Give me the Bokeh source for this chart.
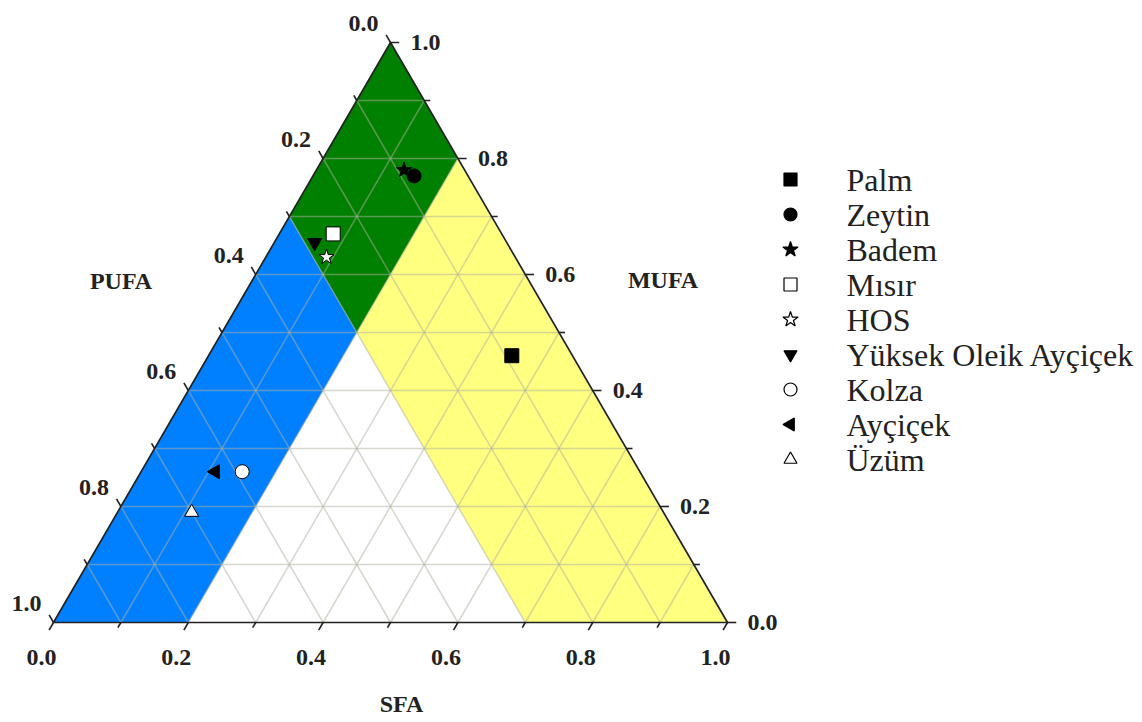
import numpy as np
from bokeh.plotting import figure
from bokeh.models import Range1d
from bokeh.core.properties import value
from bokeh.embed import file_html
from bokeh.resources import INLINE

# ---------------- data ----------------
oils = ["Palm", "Zeytin", "Badem", "Mısır", "HOS",
        "Yüksek Oleik Ayçiçek", "Kolza", "Ayçiçek", "Üzüm"]
sfa  = [0.45, 0.15, 0.13, 0.08, 0.09, 0.06, 0.15, 0.11, 0.11]
mufa = [0.46, 0.77, 0.78, 0.67, 0.63, 0.655, 0.26, 0.26, 0.19]
pufa = [0.09, 0.08, 0.09, 0.25, 0.28, 0.285, 0.59, 0.63, 0.70]
markers = ["square", "circle", "star", "square", "star",
           "inverted_triangle", "circle", "triangle", "triangle"]
angles  = [0, 0, 0, 0, 0, 0, 0, np.pi / 2, 0]
fills   = ["black", "black", "black", "white", "white",
           "black", "white", "black", "white"]

tick_values  = [round(0.1 * i, 1) for i in range(11)]
major_values = [0.0, 0.2, 0.4, 0.6, 0.8, 1.0]
tick_labels  = ["0.0", "0.2", "0.4", "0.6", "0.8", "1.0"]

sfa_cut, pufa_cut = 0.2, 0.3
axis_titles = ["SFA", "MUFA", "PUFA"]

# ---------------- helpers ----------------
H = np.sqrt(3) / 2


def tern(s, m, p):
    tot = s + m + p
    s, m = s / tot, m / tot
    return s + m / 2, m * H


# page geometry (pixels)
W, Hpx = 1142, 722
CX, CY = 53.0, 622.0          # bottom-left corner of triangle on page
SX, SY = 674.0, 580.0 / H     # pixels per data unit
x0 = -CX / SX
x1 = x0 + W / SX
y1 = CY / SY
y0 = -(Hpx - CY) / SY


def px2data(px, py):
    return (px - CX) / SX, (CY - py) / SY


p = figure(width=W, height=Hpx, x_range=Range1d(x0, x1), y_range=Range1d(y0, y1),
           output_backend="svg", toolbar_location=None, min_border=0,
           x_axis_type=None, y_axis_type=None)
p.outline_line_color = None
p.grid.visible = False
p.background_fill_color = "white"
p.border_fill_color = "white"


def poly(pts):
    xs, ys = zip(*[tern(*q) for q in pts])
    return list(xs), list(ys)


sc, pc = sfa_cut, pufa_cut
green = poly([(0, 1, 0), (0, 1 - pc, pc), (sc, 1 - sc - pc, pc), (sc, 1 - sc, 0)])
blue = poly([(0, 1 - pc, pc), (0, 0, 1), (sc, 0, 1 - sc), (sc, 1 - sc - pc, pc)])
yellow = poly([(sc, 1 - sc, 0), (sc, 1 - sc - pc, pc), (1 - pc, 0, pc), (1, 0, 0)])

p.patches([green[0], blue[0], yellow[0]], [green[1], blue[1], yellow[1]],
          fill_color=["#008000", "#0080FF", "#FFFF80"], line_color=None)

# grid lines
gx0, gy0, gx1, gy1 = [], [], [], []
for v in tick_values[1:-1]:
    for a, b in [((v, 0, 1 - v), (v, 1 - v, 0)),
                 ((0, v, 1 - v), (1 - v, v, 0)),
                 ((0, 1 - v, v), (1 - v, 0, v))]:
        xa, ya = tern(*a)
        xb, yb = tern(*b)
        gx0.append(xa); gy0.append(ya); gx1.append(xb); gy1.append(yb)
p.segment(gx0, gy0, gx1, gy1, line_color="#b0b0a0", line_alpha=0.5, line_width=1.5)

# triangle outline
ox, oy = poly([(0, 0, 1), (1, 0, 0), (0, 1, 0), (0, 0, 1)])
p.line(ox, oy, line_color="#222222", line_width=1.7)

# ticks
tx0, ty0, tx1, ty1 = [], [], [], []
for v in tick_values:
    L = 0.013 if round(v * 10) % 2 == 0 else 0.009
    x, y = tern(v, 0, 1 - v)          # SFA (bottom): down-left
    tx0.append(x); ty0.append(y); tx1.append(x - 0.5 * L); ty1.append(y - H * L)
    x, y = tern(1 - v, v, 0)          # MUFA (right): to the right
    tx0.append(x); ty0.append(y); tx1.append(x + L); ty1.append(y)
    x, y = tern(0, 1 - v, v)          # PUFA (left): up-left
    tx0.append(x); ty0.append(y); tx1.append(x - 0.5 * L); ty1.append(y + H * L)
p.segment(tx0, ty0, tx1, ty1, line_color="#222222", line_width=1.6)

font = value("Liberation Serif")
bx = [tern(v, 0, 1 - v)[0] for v in major_values]
by = [tern(v, 0, 1 - v)[1] for v in major_values]
p.text(bx, by, text=tick_labels, text_font=font, text_font_style="bold",
       text_font_size="24px", text_color="#222222", text_align="center",
       text_baseline="middle", x_offset=-12, y_offset=35)
rx = [tern(1 - v, v, 0)[0] for v in major_values]
ry = [tern(1 - v, v, 0)[1] for v in major_values]
p.text(rx, ry, text=tick_labels, text_font=font, text_font_style="bold",
       text_font_size="24px", text_color="#222222", text_align="left",
       text_baseline="middle", x_offset=20, y_offset=0)
lx = [tern(0, 1 - v, v)[0] for v in major_values]
ly = [tern(0, 1 - v, v)[1] for v in major_values]
p.text(lx, ly, text=tick_labels, text_font=font, text_font_style="bold",
       text_font_size="24px", text_color="#222222", text_align="right",
       text_baseline="middle", x_offset=-12, y_offset=-19)

# axis titles, anchored at the mid-points of their edges
mx = [tern(0.5, 0, 0.5)[0], tern(0.5, 0.5, 0)[0], tern(0, 0.5, 0.5)[0]]
my = [tern(0.5, 0, 0.5)[1], tern(0.5, 0.5, 0)[1], tern(0, 0.5, 0.5)[1]]
p.text(mx, my, text=axis_titles, text_font=font, text_font_style="bold",
       text_font_size="24px", text_color="#222222", text_align="center",
       text_baseline="middle", x_offset=[11, 104, -101], y_offset=[81, -53, -52])

# data points
for name, s, m, q, mk, ang, fc in zip(oils, sfa, mufa, pufa, markers, angles, fills):
    x, y = tern(s, m, q)
    p.scatter([x], [y], marker=mk, angle=ang, size=14 if mk != "star" else 16,
              fill_color=fc, line_color="black", line_width=1)

# legend (drawn by hand so the rotated triangle keeps its orientation)
leg_mx, leg_tx = px2data(790, 0)[0], px2data(846, 0)[0]
leg_y = [px2data(0, 179 + 35 * i)[1] for i in range(len(oils))]
for name, mk, ang, fc, ly_ in zip(oils, markers, angles, fills, leg_y):
    p.scatter([leg_mx], [ly_], marker=mk, angle=ang, size=13 if mk != "star" else 16,
              fill_color=fc, line_color="black", line_width=1.2)
p.text([leg_tx] * len(oils), leg_y, text=oils, text_font=font,
       text_font_size="32px", text_color="#222222", text_align="left",
       text_baseline="middle")

open("out.html", "w").write(file_html(p, INLINE))
